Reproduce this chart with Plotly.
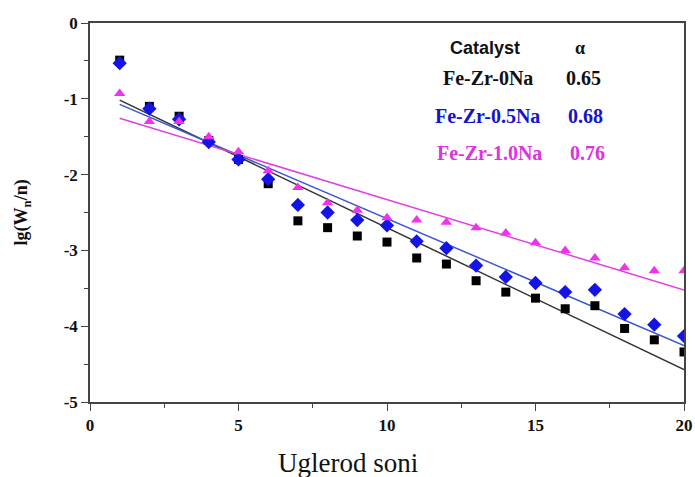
import numpy as np
import plotly.graph_objects as go

# Carbon number
n = list(range(1, 21))

# lg(Wn/n) for each catalyst
fe_zr_0na = [-0.49, -1.10, -1.23, -1.55, -1.80, -2.12, -2.61, -2.70, -2.81, -2.89,
             -3.10, -3.18, -3.40, -3.55, -3.63, -3.77, -3.73, -4.03, -4.18, -4.34]
fe_zr_05na = [-0.53, -1.13, -1.27, -1.57, -1.80, -2.06, -2.40, -2.50, -2.60, -2.67,
              -2.88, -2.97, -3.20, -3.35, -3.43, -3.55, -3.52, -3.84, -3.98, -4.13]
fe_zr_10na = [-0.93, -1.30, -1.30, -1.50, -1.70, -1.95, -2.17, -2.37, -2.47, -2.57,
              -2.60, -2.63, -2.70, -2.77, -2.90, -3.00, -3.10, -3.23, -3.27, -3.27]

catalysts = ["Fe-Zr-0Na", "Fe-Zr-0.5Na", "Fe-Zr-1.0Na"]
alphas = [0.65, 0.68, 0.76]
# ASF line intercepts (value at n = 0); slope is lg(alpha)
intercepts = [-0.83, -0.906, -1.138]

x_ticks = [0, 5, 10, 15, 20]
y_ticks = [0, -1, -2, -3, -4, -5]

series = [fe_zr_0na, fe_zr_05na, fe_zr_10na]
marker_colors = ["#000000", "#1414e6", "#ee33ee"]
line_colors = ["#333333", "#3a55d0", "#e040e0"]
symbols = ["square", "diamond", "triangle-up"]
sizes = [9, 11, 10]

fig = go.Figure()

n_arr = np.array(n, dtype=float)
for a, b, lc in zip(alphas, intercepts, line_colors):
    fig.add_trace(go.Scatter(
        x=n_arr, y=b + np.log10(a) * n_arr, mode="lines",
        line=dict(color=lc, width=1.5), showlegend=False, hoverinfo="skip"))

for yv, mc, sym, sz, name in zip(series, marker_colors, symbols, sizes, catalysts):
    fig.add_trace(go.Scatter(
        x=n, y=yv, mode="markers", name=name,
        marker=dict(symbol=sym, size=sz, color=mc, line=dict(width=0)),
        showlegend=False))

serif = "Liberation Serif, Times New Roman, serif"
sans = "Liberation Sans, Arial, sans-serif"

annotations = [
    dict(x=13.3, y=-0.33, text="<b>Catalyst</b>", font=dict(family=sans, size=18, color="#111")),
    dict(x=16.5, y=-0.33, text="<b>α</b>", font=dict(family=serif, size=18, color="#111")),
]
rows_y = [-0.73, -1.23, -1.72]
name_x = [13.4, 13.4, 13.45]
value_x = [16.6, 16.7, 16.75]
text_colors = ["#111111", "#1414cc", "#dd33dd"]
for name, a, yy, xx, vx, tc in zip(catalysts, alphas, rows_y, name_x, value_x, text_colors):
    annotations.append(dict(x=xx, y=yy, text=f"<b>{name}</b>",
                            font=dict(family=serif, size=20, color=tc)))
    annotations.append(dict(x=vx, y=yy, text=f"<b>{a:.2f}</b>",
                            font=dict(family=serif, size=20, color=tc)))
for ann in annotations:
    ann.update(xref="x", yref="y", showarrow=False, xanchor="center", yanchor="middle")

# Axis titles, placed relative to the plotting area
annotations.append(dict(x=0.434, y=-0.161, xref="paper", yref="paper", text="Uglerod soni",
                        showarrow=False, xanchor="center", yanchor="middle",
                        font=dict(family=serif, size=27, color="#111")))
annotations.append(dict(x=-0.113, y=0.50, xref="paper", yref="paper",
                        text="<b>lg(W<sub>n</sub>/n)</b>", textangle=-90,
                        showarrow=False, xanchor="center", yanchor="middle",
                        font=dict(family=serif, size=18, color="#111")))

fig.update_layout(
    width=695, height=477,
    margin=dict(l=90, r=11, t=23, b=75, autoexpand=False),
    plot_bgcolor="white", paper_bgcolor="white",
    annotations=annotations,
    xaxis=dict(
        range=[0, 20], tickvals=x_ticks, ticktext=[f"<b>{v}</b>" for v in x_ticks],
        showgrid=False, zeroline=False, automargin=False,
        showline=True, linecolor="#444", linewidth=1.5, mirror=True,
        ticks="outside", ticklen=7, tickwidth=1.3, tickcolor="#444",
        minor=dict(tickvals=[2.5, 7.5, 12.5, 17.5], ticks="outside", ticklen=4, tickcolor="#444"),
        tickfont=dict(family=serif, size=17, color="#111"),
    ),
    yaxis=dict(
        range=[-5, 0], tickvals=y_ticks, ticktext=[f"<b>{v}</b>" for v in y_ticks],
        showgrid=False, zeroline=False, automargin=False,
        showline=True, linecolor="#444", linewidth=1.5, mirror=True,
        ticks="outside", ticklen=7, tickwidth=1.3, tickcolor="#444",
        minor=dict(tickvals=[-0.5, -1.5, -2.5, -3.5, -4.5], ticks="outside", ticklen=4, tickcolor="#444"),
        tickfont=dict(family=serif, size=17, color="#111"),
    ),
)

fig.write_html("out.html")
